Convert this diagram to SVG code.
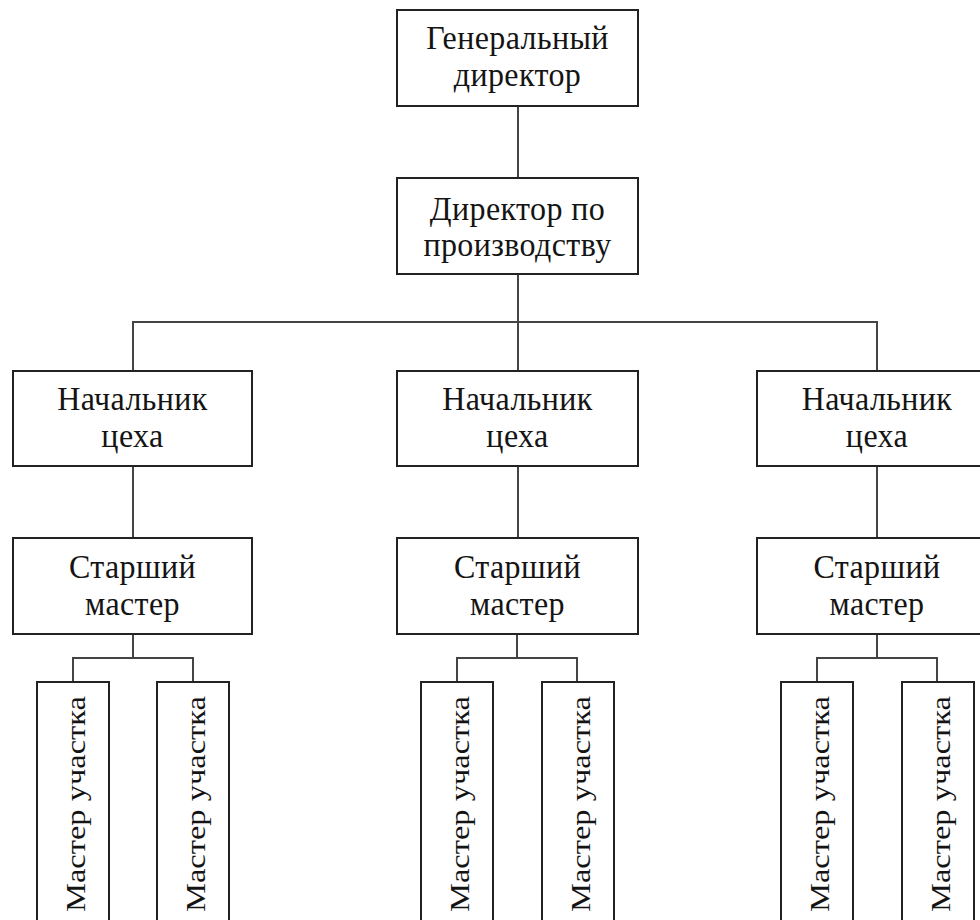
<svg xmlns="http://www.w3.org/2000/svg" width="980" height="920" viewBox="0 0 980 920">
  <style>
    .box { fill: #ffffff; stroke: #222222; stroke-width: 2; }
    .lbl { font-family: "Liberation Serif", "Times New Roman", serif; font-size: 32px; letter-spacing: 0.4px; fill: #141414; text-anchor: middle; }
    .vlbl { font-family: "Liberation Serif", "Times New Roman", serif; font-size: 28px; fill: #141414; text-anchor: middle; }
    .link { fill: none; stroke: #444444; stroke-width: 2; }
  </style>
  <rect width="980" height="920" fill="#ffffff"/>

  <g id="connectors">
    <path class="link" d="M518 106 V178"/>
    <path class="link" d="M518 274 V371"/>
    <path class="link" d="M133 371 V322 H877 V371"/>
    <path class="link" d="M133 466 V538"/>
    <path class="link" d="M518 466 V538"/>
    <path class="link" d="M877 466 V538"/>
    <path class="link" d="M133 634 V658 M73 682 V658 H193 V682"/>
    <path class="link" d="M517 634 V658 M457 682 V658 H577 V682"/>
    <path class="link" d="M877 634 V658 M817 682 V658 H937 V682"/>
  </g>

  <g id="general-director">
    <rect class="box" x="397" y="10" width="241" height="96"/>
    <g transform="translate(517.5,0) scale(1,1.05)">
      <text class="lbl" x="0" y="46.7">Генеральный</text>
      <text class="lbl" x="0" y="82">директор</text>
    </g>
  </g>

  <g id="production-director">
    <rect class="box" x="397" y="178" width="241" height="96"/>
    <g transform="translate(517.5,0) scale(1,1.05)">
      <text class="lbl" x="0" y="209.5">Директор по</text>
      <text class="lbl" x="0" y="243.8">производству</text>
    </g>
  </g>

  <g id="shop-head-1">
    <rect class="box" x="13" y="371" width="239" height="95"/>
    <g transform="translate(132.5,0) scale(1,1.05)">
      <text class="lbl" x="0" y="390.5">Начальник</text>
      <text class="lbl" x="0" y="425.7">цеха</text>
    </g>
  </g>
  <g id="shop-head-2">
    <rect class="box" x="397" y="371" width="241" height="95"/>
    <g transform="translate(517.5,0) scale(1,1.05)">
      <text class="lbl" x="0" y="390.5">Начальник</text>
      <text class="lbl" x="0" y="425.7">цеха</text>
    </g>
  </g>
  <g id="shop-head-3">
    <rect class="box" x="757" y="371" width="240" height="95"/>
    <g transform="translate(877,0) scale(1,1.05)">
      <text class="lbl" x="0" y="390.5">Начальник</text>
      <text class="lbl" x="0" y="425.7">цеха</text>
    </g>
  </g>

  <g id="senior-master-1">
    <rect class="box" x="13" y="538" width="239" height="96"/>
    <g transform="translate(132.5,0) scale(1,1.05)">
      <text class="lbl" x="0" y="550.5">Старший</text>
      <text class="lbl" x="0" y="585.7">мастер</text>
    </g>
  </g>
  <g id="senior-master-2">
    <rect class="box" x="397" y="538" width="241" height="96"/>
    <g transform="translate(517.5,0) scale(1,1.05)">
      <text class="lbl" x="0" y="550.5">Старший</text>
      <text class="lbl" x="0" y="585.7">мастер</text>
    </g>
  </g>
  <g id="senior-master-3">
    <rect class="box" x="757" y="538" width="240" height="96"/>
    <g transform="translate(877,0) scale(1,1.05)">
      <text class="lbl" x="0" y="550.5">Старший</text>
      <text class="lbl" x="0" y="585.7">мастер</text>
    </g>
  </g>

  <!-- section masters: tall boxes running off the bottom edge, label reads upward -->
  <g id="section-master-1a">
    <rect class="box" x="37" y="682" width="72" height="260"/>
    <text class="vlbl" transform="translate(85,804) scale(1,1.16) rotate(-90)">Мастер участка</text>
  </g>
  <g id="section-master-1b">
    <rect class="box" x="157" y="682" width="72" height="260"/>
    <text class="vlbl" transform="translate(205,804) scale(1,1.16) rotate(-90)">Мастер участка</text>
  </g>
  <g id="section-master-2a">
    <rect class="box" x="421" y="682" width="72" height="260"/>
    <text class="vlbl" transform="translate(469,804) scale(1,1.16) rotate(-90)">Мастер участка</text>
  </g>
  <g id="section-master-2b">
    <rect class="box" x="542" y="682" width="72" height="260"/>
    <text class="vlbl" transform="translate(590,804) scale(1,1.16) rotate(-90)">Мастер участка</text>
  </g>
  <g id="section-master-3a">
    <rect class="box" x="781" y="682" width="72" height="260"/>
    <text class="vlbl" transform="translate(829,804) scale(1,1.16) rotate(-90)">Мастер участка</text>
  </g>
  <g id="section-master-3b">
    <rect class="box" x="902" y="682" width="72" height="260"/>
    <text class="vlbl" transform="translate(950,804) scale(1,1.16) rotate(-90)">Мастер участка</text>
  </g>
</svg>
